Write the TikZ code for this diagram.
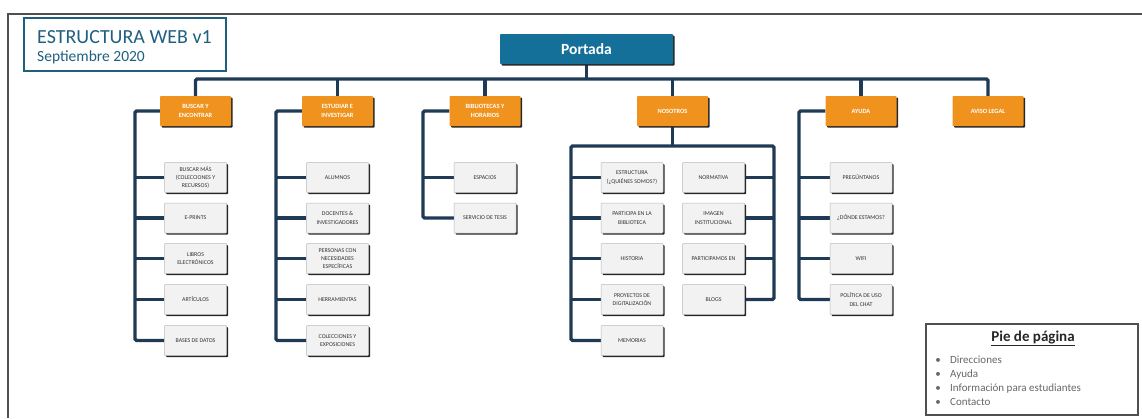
\documentclass[tikz,border=0pt]{standalone}
\usepackage{fontspec}
\setmainfont{Carlito}
\usetikzlibrary{shadows,backgrounds}
\definecolor{navy}{HTML}{1E3A55}
\definecolor{orangebox}{HTML}{F0931E}
\definecolor{portadablue}{HTML}{146F99}
\definecolor{titleteal}{HTML}{1F5F7F}
\definecolor{boxgray}{HTML}{F2F2F2}
\definecolor{textgray}{HTML}{333333}
\definecolor{piegray}{HTML}{666666}
\definecolor{framegray}{HTML}{505050}
\begin{document}
\begin{tikzpicture}[x=1pt,y=-1pt,
  conn/.style={draw=navy,line width=3.4pt,rounded corners=1.5pt},
  shadowed/.style={drop shadow={shadow xshift=1.6pt,shadow yshift=-1.6pt,fill=black!85,opacity=1}},
  item/.style={shadowed,draw=gray!55,line width=0.5pt,fill=boxgray,minimum width=62pt,minimum height=30pt,
    inner sep=1pt,align=center,font=\fontsize{5.9}{8.3}\selectfont,text=textgray,rounded corners=0.8pt},
  obox/.style={shadowed,fill=orangebox,minimum width=71pt,minimum height=30pt,inner sep=1pt,
    align=center,text=white,font=\fontsize{6.4}{9.5}\selectfont\bfseries,rounded corners=0.8pt},
  pbox/.style={shadowed,fill=portadablue,minimum width=173pt,minimum height=30pt,text=white,
    font=\fontsize{15.5}{18}\selectfont\bfseries,rounded corners=0.8pt},
  titlebox/.style={draw=titleteal,line width=2pt,minimum width=202pt,minimum height=53pt},
  piebox/.style={draw=framegray,line width=1.2pt,minimum width=212pt,minimum height=91pt},
  pietext/.style={anchor=base west,inner sep=0pt,text=piegray,font=\fontsize{11}{13}\selectfont},
  piebullet/.style={anchor=base,inner sep=0pt,text=piegray,font=\fontsize{11}{13}\selectfont},
]
\useasboundingbox (0,0) rectangle (1142,418);
% outer frame
\draw[framegray,line width=1.5pt] (1142,14) -- (8,14) -- (8,418);

% title
\node[titlebox] (title) at (125,44.5) {};
\node[anchor=base west,inner sep=0pt,text=titleteal,font=\fontsize{20}{22}\selectfont] (t1) at (37,43) {ESTRUCTURA WEB v1};
\node[anchor=base west,inner sep=0pt,text=titleteal,font=\fontsize{15.5}{17}\selectfont] (t2) at (37,61.5) {Septiembre 2020};

% top
\node[pbox] (portada) at (586.5,49) {Portada};
\node[obox] (o1) at (195.5,111) {BUSCAR Y\\ENCONTRAR};
\node[obox] (o2) at (337.5,111) {ESTUDIAR E\\INVESTIGAR};
\node[obox] (o3) at (485,111) {BIBLIOTECAS Y\\HORARIOS};
\node[obox] (o4) at (672.5,111) {NOSOTROS};
\node[obox] (o5) at (861,111) {AYUDA};
\node[obox] (o6) at (988,111) {AVISO LEGAL};

% column 1
\node[item] (b1) at (195.5,177.5) {BUSCAR MÁS\\(COLECCIONES Y\\RECURSOS)};
\node[item] (b2) at (195.5,218) {E-PRINTS};
\node[item] (b3) at (195.5,258.5) {LIBROS\\ELECTRÓNICOS};
\node[item] (b4) at (195.5,299.5) {ARTÍCULOS};
\node[item] (b5) at (195.5,340.5) {BASES DE DATOS};
% column 2
\node[item] (e1) at (337.5,177.5) {ALUMNOS};
\node[item] (e2) at (337.5,218) {DOCENTES \&\\INVESTIGADORES};
\node[item] (e3) at (337.5,258.5) {PERSONAS CON\\NECESIDADES\\ESPECÍFICAS};
\node[item] (e4) at (337.5,299.5) {HERRAMIENTAS};
\node[item] (e5) at (337.5,340.5) {COLECCIONES Y\\EXPOSICIONES};
% column 3
\node[item] (h1) at (485,177.5) {ESPACIOS};
\node[item] (h2) at (485,218) {SERVICIO DE TESIS};
% nosotros
\node[item] (n1) at (632,177.5) {ESTRUCTURA\\(¿QUIÉNES SOMOS?)};
\node[item] (n2) at (632,218) {PARTICIPA EN LA\\BIBLIOTECA};
\node[item] (n3) at (632,258.5) {HISTORIA};
\node[item] (n4) at (632,299.5) {PROYECTOS DE\\DIGITALIZACIÓN};
\node[item] (n5) at (632,340.5) {MEMORIAS};
\node[item] (r1) at (713.5,177.5) {NORMATIVA};
\node[item] (r2) at (713.5,218) {IMAGEN\\INSTITUCIONAL};
\node[item] (r3) at (713.5,258.5) {PARTICIPAMOS EN};
\node[item] (r4) at (713.5,299.5) {BLOGS};
% ayuda
\node[item] (a1) at (861,177.5) {PREGÚNTANOS};
\node[item] (a2) at (861,218) {¿DÓNDE ESTAMOS?};
\node[item] (a3) at (861,258.5) {WIFI};
\node[item] (a4) at (861,299.5) {POLÍTICA DE USO\\DEL CHAT};

% pie de pagina
\node[piebox] (pie) at (1032,369.5) {};
\node[anchor=base,inner sep=0pt,text=black!85,font=\fontsize{15}{18}\selectfont\bfseries] (pietitle) at (1033,341) {\underline{Pie de página}};
\node[piebullet] (pb1) at (938,363) {\textbullet};
\node[pietext] (p1) at (950,363) {Direcciones};
\node[piebullet] (pb2) at (938,377) {\textbullet};
\node[pietext] (p2) at (950,377) {Ayuda};
\node[piebullet] (pb3) at (938,391) {\textbullet};
\node[pietext] (p3) at (950,391) {Información para estudiantes};
\node[piebullet] (pb4) at (938,405) {\textbullet};
\node[pietext] (p4) at (950,405) {Contacto};

% connectors
\begin{scope}[on background layer]
\coordinate (bus) at (0,79);
\coordinate (s1) at (135,0);
\coordinate (s2) at (276,0);
\coordinate (s3) at (423,0);
\coordinate (s5) at (799,0);
\coordinate (nl) at (571,146);
\coordinate (nr) at (774,146);
\draw[conn] (portada.south) -- (portada.south |- bus);
\draw[conn] (o1.north) -- (o1.north |- bus) -- (o6.north |- bus) -- (o6.north);
\foreach \o in {o2,o3,o4,o5} \draw[conn] (\o.north) -- (\o.north |- bus);
% column 1
\draw[conn] (o1.west) -- (o1.west -| s1) -- (s1 |- b5.west) -- (b5.west);
\foreach \n in {b1,b2,b3,b4} \draw[conn] (\n.west) -- (\n.west -| s1);
% column 2
\draw[conn] (o2.west) -- (o2.west -| s2) -- (s2 |- e5.west) -- (e5.west);
\foreach \n in {e1,e2,e3,e4} \draw[conn] (\n.west) -- (\n.west -| s2);
% column 3
\draw[conn] (o3.west) -- (o3.west -| s3) -- (s3 |- h2.west) -- (h2.west);
\draw[conn] (h1.west) -- (h1.west -| s3);
% nosotros
\draw[conn] (o4.south) -- (o4.south |- nl);
\draw[conn] (n5.west) -- (n5.west -| nl) -- (nl) -- (nr) -- (nr |- r4.east) -- (r4.east);
\foreach \n in {n1,n2,n3,n4} \draw[conn] (\n.west) -- (\n.west -| nl);
\foreach \n in {r1,r2,r3} \draw[conn] (\n.east) -- (\n.east -| nr);
% ayuda
\draw[conn] (o5.west) -- (o5.west -| s5) -- (s5 |- a4.west) -- (a4.west);
\foreach \n in {a1,a2,a3} \draw[conn] (\n.west) -- (\n.west -| s5);
\end{scope}
\end{tikzpicture}
\end{document}
